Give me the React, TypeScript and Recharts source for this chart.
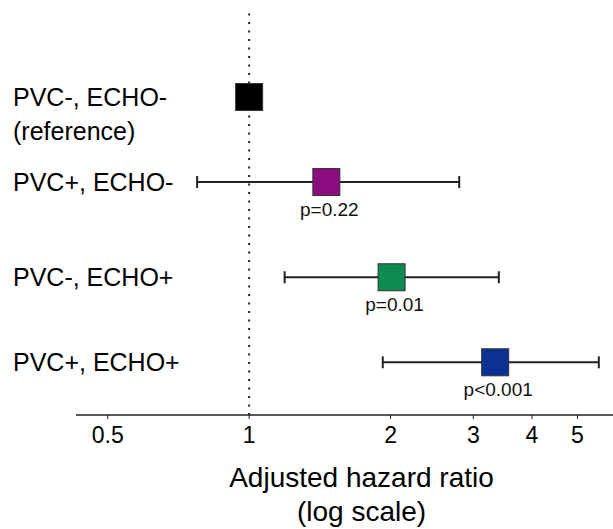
import React from 'react';
import { ScatterChart, Scatter, XAxis, YAxis, ReferenceLine, ErrorBar } from 'recharts';

const groups = ['PVC-, ECHO-', 'PVC+, ECHO-', 'PVC-, ECHO+', 'PVC+, ECHO+'];
const subLabels = ['(reference)', '', '', ''];
const hazardRatio = [1, 1.46, 2.01, 3.34];
const ciLow = [1, 0.775, 1.19, 1.925];
const ciHigh = [1, 2.8, 3.4, 5.55];
const pValues = ['', 'p=0.22', 'p=0.01', 'p<0.001'];
const rowPos = [1, 2, 3.12, 4.12];
const colors = ['#000000', '#8a0c7e', '#0f8a50', '#0b3191'];
const xTicks = [0.5, 1, 2, 3, 4, 5];

const FONT = '"Liberation Sans", Arial, sans-serif';

const rows = groups.map((g, i) => ({
  group: g,
  sub: subLabels[i],
  hr: hazardRatio[i],
  y: rowPos[i],
  err: [hazardRatio[i] - ciLow[i], ciHigh[i] - hazardRatio[i]],
  p: pValues[i],
  color: colors[i],
}));
const whiskerRows = rows.filter(r => r.p !== '');

const renderBox = (props: any) => {
  const { cx, cy, payload } = props;
  const s = 27;
  return (
    <g>
      <rect x={cx - s / 2} y={cy - s / 2} width={s} height={s} fill={payload.color} stroke="#333" strokeWidth={1} />
      {payload.p && (
        <text x={cx + 3} y={cy + 34} textAnchor="middle" fontSize={19} fill="#111" fontFamily={FONT}>
          {payload.p}
        </text>
      )}
    </g>
  );
};

const RowLabel = (props: any) => {
  const { y, payload } = props;
  const i = rowPos.indexOf(payload.value);
  if (i < 0) return null;
  return (
    <g>
      <text x={13} y={y} dy="0.35em" fontSize={25} fill="#000" fontFamily={FONT}>
        {groups[i]}
      </text>
      {subLabels[i] && (
        <text x={13} y={y + 34} dy="0.35em" fontSize={25} fill="#000" fontFamily={FONT}>
          {subLabels[i]}
        </text>
      )}
    </g>
  );
};

const AxisTitle = (props: any) => {
  const vb = props.viewBox || { x: 76, y: 415, width: 537 };
  const cx = vb.x + vb.width / 2 + 17;
  return (
    <text textAnchor="middle" fontSize={28} fill="#000" fontFamily={FONT}>
      <tspan x={cx} y={vb.y + 72}>Adjusted hazard ratio</tspan>
      <tspan x={cx} y={vb.y + 106}>(log scale)</tspan>
    </text>
  );
};

export default function App() {
  return (
    <div style={{ position: 'absolute', left: 0, top: 0, background: '#fff', fontFamily: FONT }}>
      <ScatterChart width={613} height={529} margin={{ top: 12, right: 0, bottom: 0, left: 0 }}>
        <XAxis
          type="number"
          dataKey="hr"
          scale="log"
          domain={[0.428, 5.95]}
          allowDataOverflow
          ticks={xTicks}
          tickFormatter={v => String(v)}
          height={114}
          tick={{ fontSize: 23, fill: '#000', fontFamily: FONT }}
          tickSize={4}
          tickMargin={8}
          axisLine={{ stroke: '#222', strokeWidth: 1.5 }}
          tickLine={{ stroke: '#222' }}
          label={{ content: AxisTitle }}
        />
        <YAxis
          type="number"
          dataKey="y"
          domain={[0, 4.74]}
          allowDataOverflow
          reversed
          width={76}
          ticks={rowPos}
          axisLine={false}
          tickLine={false}
          tick={<RowLabel />}
        />
        <ReferenceLine x={1} stroke="#222" strokeWidth={2} strokeDasharray="2 6.5" />
        <Scatter data={whiskerRows} shape={() => <g />} isAnimationActive={false}>
          <ErrorBar dataKey="err" direction="x" width={6} stroke="#222" strokeWidth={2} />
        </Scatter>
        <Scatter data={rows} shape={renderBox} isAnimationActive={false} />
      </ScatterChart>
    </div>
  );
}
